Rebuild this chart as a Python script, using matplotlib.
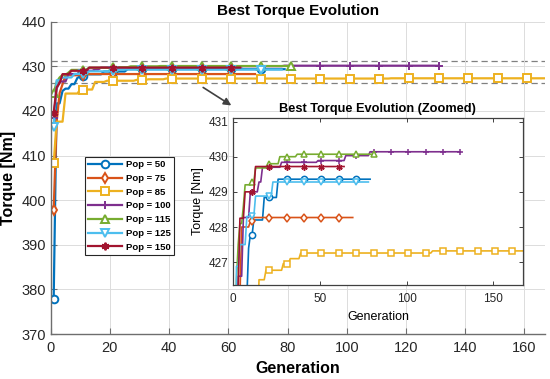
import numpy as np
import matplotlib
matplotlib.use('Agg')
import matplotlib.pyplot as plt

plt.rcParams['font.family'] = ['Liberation Sans', 'DejaVu Sans']

# best torque per generation, stored run-length: value held for n generations
pop_sizes = [50, 75, 85, 100, 115, 125, 150]

pop50_vals = [377.8, 421.7, 424.5, 425.0, 426.0, 427.4, 427.77, 428.2, 428.84, 429.36]
pop50_runs = [1, 2, 1, 2, 2, 1, 2, 6, 8, 54]

pop75_vals = [397.8, 417.5, 424.0, 426.0, 428.0, 428.16, 428.27]
pop75_runs = [1, 1, 1, 1, 5, 2, 58]

pop85_vals = [408.25, 417.6, 423.9, 424.8, 426.5, 426.77, 426.96, 427.1, 427.26, 427.32]
pop85_runs = [1, 3, 5, 5, 4, 10, 4, 6, 76, 53]

pop100_vals = [418.5, 425.0, 426.6, 428.27, 429.0, 429.28, 429.7, 429.84, 429.89, 430.03, 430.14]
pop100_runs = [1, 1, 3, 4, 5, 2, 11, 21, 16, 14, 53]

pop115_vals = [424.0, 426.5, 427.5, 428.1, 428.6, 429.2, 429.28, 429.68, 429.8, 430.0, 430.07]
pop115_runs = [1, 1, 1, 2, 1, 4, 2, 8, 6, 10, 45]

pop125_vals = [416.5, 426.88, 427.5, 428.3, 428.88, 429.28]
pop125_runs = [1, 2, 4, 5, 10, 56]

pop150_vals = [419.5, 425.3, 426.2, 428.25, 429.0, 429.72]
pop150_runs = [1, 1, 1, 3, 6, 52]

zoom_ylim = (426.35, 431.1)   # window shown in the inset (also dashed lines)

all_vals = [pop50_vals, pop75_vals, pop85_vals, pop100_vals,
            pop115_vals, pop125_vals, pop150_vals]
all_runs = [pop50_runs, pop75_runs, pop85_runs, pop100_runs,
            pop115_runs, pop125_runs, pop150_runs]

colors = ['#0072BD', '#D95319', '#EDB120', '#7E2F8E',
          '#77AC30', '#4DBEEE', '#A2142F']
markers = ['o', 'd', 's', '+', '^', 'v', (6, 2, 0)]

fig = plt.figure(figsize=(5.5, 3.79), dpi=100)
ax = fig.add_axes([0.0922, 0.1187, 0.899, 0.824])

series = []
for vals, runs in zip(all_vals, all_runs):
    y = np.repeat(vals, runs)
    x = np.arange(1, len(y) + 1)
    series.append((x, y))

for (x, y), c, m, p in zip(series, colors, markers, pop_sizes):
    ax.plot(x, y, color=c, lw=1.6, marker=m, markevery=10, ms=5.5,
            mfc='white', mec=c, mew=1.4, label=f'Pop = {p}')

for yl in zoom_ylim:
    ax.axhline(yl, color='#808080', ls='--', lw=0.9, dashes=(5, 3), zorder=0.5)

ax.set_xlim(0, 167)
ax.set_ylim(370, 440)
ax.set_xticks(np.arange(0, 161, 20))
ax.set_yticks(np.arange(370, 441, 10))
ax.grid(True, color='#dcdcdc', lw=0.7)
ax.set_axisbelow(True)
for s in ['top', 'right']:
    ax.spines[s].set_visible(False)
for s in ['left', 'bottom']:
    ax.spines[s].set_color('#6e6e6e')
    ax.spines[s].set_linewidth(1.0)
ax.tick_params(direction='in', length=4, width=0.8, color='#6e6e6e',
               labelsize=10.5, labelcolor='#262626')
ax.tick_params(axis='x', pad=5)
ax.set_xlabel('Generation', fontsize=11.5, fontweight='bold', labelpad=4)
ax.set_ylabel('Torque [Nm]', fontsize=11.5, fontweight='bold', labelpad=4)
ax.set_title('Best Torque Evolution', fontsize=11, fontweight='bold', pad=5)

leg = ax.legend(loc='upper left', bbox_to_anchor=(0.069, 0.567), borderaxespad=0,
                prop={'size': 6.8, 'weight': 'bold'}, fancybox=False,
                edgecolor='#262626', framealpha=1, handlelength=3.6,
                handletextpad=0.4, labelspacing=0.5, borderpad=0.35)
leg.get_frame().set_linewidth(0.8)

ax.annotate('', xy=(61.8, 420.9), xytext=(50.7, 425.6),
            arrowprops=dict(arrowstyle='-|>', color='#404040', lw=1.2,
                            mutation_scale=11))

# zoomed inset
ins = fig.add_axes([0.4236, 0.248, 0.527, 0.4406])
for (x, y), c, m in zip(series, colors, markers):
    ins.plot(x, y, color=c, lw=1.2, marker=m, markevery=10, ms=4.5,
             mfc='white', mec=c, mew=1.1)
ins.set_xlim(0, 167)
ins.set_ylim(*zoom_ylim)
ins.set_xticks([0, 50, 100, 150])
ins.set_yticks([427, 428, 429, 430, 431])
for s in ins.spines.values():
    s.set_color('#404040')
    s.set_linewidth(0.9)
ins.tick_params(direction='in', length=3, width=0.7, top=True, right=True,
                labelsize=8.5, labelcolor='#262626', color='#404040')
ins.tick_params(axis='x', pad=6)
ins.set_xlabel('Generation', fontsize=9, labelpad=4)
ins.set_ylabel('Torque [Nm]', fontsize=9, labelpad=3)
ins.set_title('Best Torque Evolution (Zoomed)', fontsize=9.2, fontweight='bold', pad=4)

fig.savefig('out.png', dpi=100)
